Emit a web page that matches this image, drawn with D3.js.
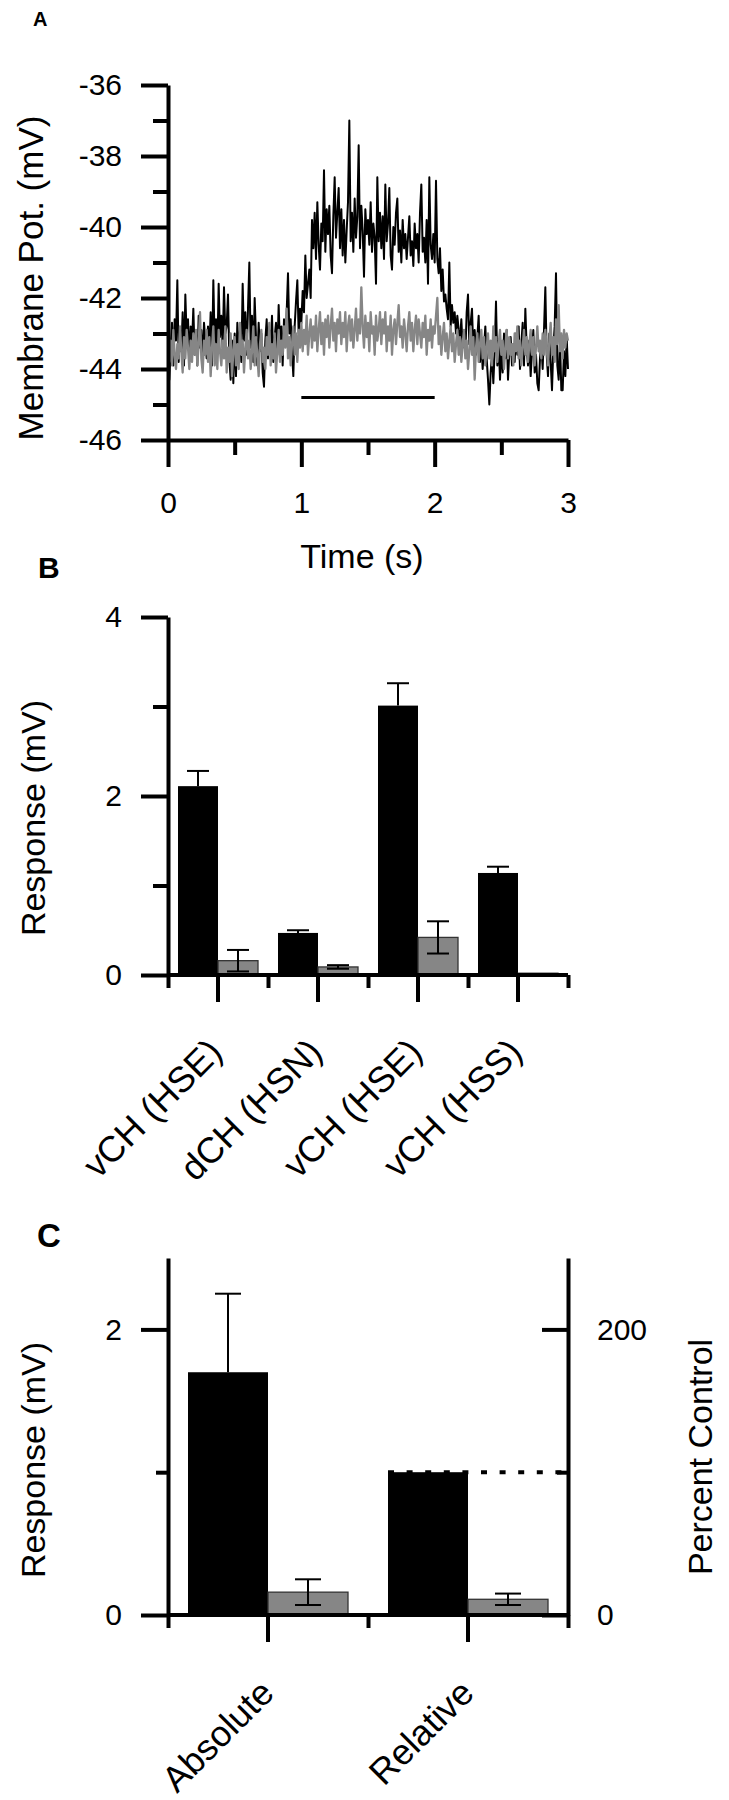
<!DOCTYPE html>
<html><head><meta charset="utf-8">
<script src="https://cdn.jsdelivr.net/npm/d3@7"></script>
<style>
body{margin:0;background:#fff}
svg text{font-family:"Liberation Sans",Arial,Helvetica,sans-serif;fill:#000}
</style>
</head><body>
<svg id="fig" width="729" height="1800"></svg>
<script>
// ---------------- Panel A data ----------------
const traceDt = 0.01; // s between samples, first sample at t = 0
const controlTrace = [
 -43.6,-44.3,-43.4,-42.7,-43.9,-42.6,-43.2,-41.5,-43.8,-42.9,
 -43.5,-42.4,-43.9,-41.9,-43.1,-42.6,-43.7,-42.8,-43.3,-42.3,
 -43.6,-43.0,-43.9,-42.5,-43.4,-42.9,-43.8,-42.7,-43.2,-43.7,
 -42.8,-43.5,-42.4,-43.9,-41.5,-43.3,-42.6,-43.6,-41.6,-43.1,
 -42.5,-43.4,-41.7,-43.0,-42.8,-41.9,-43.7,-44.3,-43.2,-44.4,
 -43.0,-44.2,-42.7,-43.5,-42.9,-43.8,-41.6,-43.2,-42.4,-43.6,
 -42.3,-41.0,-43.4,-42.5,-43.8,-42.0,-43.1,-43.9,-42.7,-43.5,
 -43.0,-44.1,-44.5,-43.2,-42.6,-43.7,-42.9,-43.4,-42.5,-43.8,
 -43.1,-42.7,-43.6,-42.2,-43.4,-42.8,-43.9,-42.6,-43.3,-42.4,
 -41.3,-43.0,-42.6,-43.5,-44.2,-42.8,-42.1,-41.5,-43.0,-42.3,
 -42.7,-41.8,-42.4,-40.8,-42.0,-41.6,-41.2,-42.0,-39.8,-40.6,
 -39.6,-40.9,-39.3,-40.5,-41.2,-39.9,-40.4,-38.4,-40.7,-39.5,
 -40.2,-39.4,-40.8,-41.3,-39.7,-38.6,-40.3,-39.6,-38.9,-40.6,
 -39.5,-40.8,-39.8,-41.0,-40.1,-39.3,-37.0,-40.4,-39.6,-40.7,
 -39.2,-40.3,-39.7,-37.7,-40.6,-39.4,-40.1,-41.4,-39.5,-40.2,
 -39.8,-40.5,-39.3,-40.7,-39.9,-40.3,-41.6,-38.6,-40.4,-39.6,
 -40.6,-39.7,-40.9,-38.8,-40.4,-39.9,-38.9,-40.8,-41.2,-40.0,
 -40.5,-39.6,-39.2,-40.7,-40.1,-41.0,-39.8,-40.6,-40.2,-40.9,
 -40.3,-39.7,-40.8,-40.4,-41.1,-39.9,-40.6,-40.2,-41.0,-39.6,
 -38.8,-40.7,-40.3,-41.0,-39.8,-41.6,-38.6,-40.5,-40.9,-40.2,
 -41.0,-38.7,-40.9,-41.3,-40.6,-41.8,-41.2,-42.1,-41.9,-42.3,
 -42.6,-41.0,-42.8,-42.2,-42.7,-42.4,-43.0,-42.5,-42.9,-43.2,
 -42.6,-43.4,-42.9,-43.6,-42.4,-41.9,-43.3,-42.7,-42.3,-43.5,
 -42.9,-43.6,-43.1,-42.5,-43.8,-43.2,-44.0,-43.4,-42.8,-43.7,
 -44.3,-45.0,-44.1,-43.6,-44.4,-43.5,-42.1,-43.9,-43.2,-44.3,
 -43.4,-44.1,-43.0,-43.7,-42.9,-44.3,-43.5,-43.1,-43.9,-43.3,
 -43.8,-43.0,-43.6,-42.8,-44.0,-43.3,-42.7,-43.9,-42.3,-43.4,
 -43.9,-43.2,-44.2,-43.5,-42.9,-44.1,-43.6,-44.4,-44.6,-43.7,
 -43.3,-44.0,-42.9,-41.7,-43.6,-44.2,-43.0,-43.8,-44.6,-43.4,
 -42.8,-41.3,-43.9,-44.3,-43.2,-44.6,-44.6,-43.5,-44.2,-43.1,
 -44.0
];
const treatedTrace = [
 -43.1,-43.8,-43.2,-43.9,-42.9,-43.6,-44.0,-43.3,-43.7,-42.8,
 -43.5,-44.1,-43.1,-43.7,-42.9,-43.4,-44.0,-43.2,-43.8,-43.0,
 -43.6,-42.9,-43.9,-43.3,-42.4,-43.7,-44.1,-43.2,-43.6,-42.9,
 -43.8,-43.1,-44.2,-43.4,-42.8,-43.9,-43.3,-44.0,-42.9,-43.5,
 -43.9,-43.2,-43.7,-42.8,-44.1,-43.4,-43.8,-43.0,-44.2,-43.5,
 -43.1,-43.9,-43.3,-44.0,-42.7,-43.6,-43.2,-44.1,-43.4,-42.9,
 -43.7,-43.2,-44.0,-43.5,-42.8,-43.9,-43.1,-43.6,-44.2,-43.3,
 -42.9,-43.8,-43.4,-44.0,-43.1,-43.6,-42.7,-43.9,-43.3,-43.7,
 -43.0,-44.1,-43.5,-42.9,-43.8,-43.2,-43.6,-42.8,-43.4,-42.3,
 -43.7,-43.1,-43.9,-43.3,-42.8,-43.6,-43.0,-43.8,-42.9,-43.4,
 -42.7,-43.5,-42.9,-43.3,-42.5,-43.6,-43.0,-42.6,-43.4,-42.8,
 -43.2,-42.5,-43.5,-42.9,-42.4,-43.3,-42.7,-43.6,-42.6,-43.1,
 -42.5,-43.4,-42.8,-42.3,-43.2,-42.7,-43.5,-42.6,-43.0,-42.4,
 -43.3,-42.7,-43.1,-42.4,-43.5,-42.8,-42.5,-43.2,-42.6,-43.4,
 -42.9,-42.3,-43.2,-42.6,-43.0,-41.7,-42.8,-43.4,-42.5,-43.1,
 -42.7,-43.5,-42.4,-43.0,-42.8,-43.6,-42.5,-43.2,-42.9,-42.4,
 -43.3,-42.6,-43.0,-42.4,-43.5,-42.8,-43.2,-42.5,-43.6,-42.9,
 -42.6,-43.3,-42.7,-42.2,-43.1,-42.8,-43.4,-42.6,-43.0,-43.5,
 -42.8,-42.4,-43.2,-42.7,-43.5,-42.9,-42.5,-43.3,-42.6,-43.0,
 -43.4,-42.7,-43.1,-42.5,-43.6,-42.9,-43.2,-42.6,-43.4,-42.8,
 -43.0,-42.5,-42.0,-43.3,-42.8,-43.6,-43.1,-42.7,-43.5,-43.0,
 -43.7,-43.2,-42.8,-43.5,-43.0,-43.8,-43.3,-42.9,-43.6,-43.1,
 -43.8,-43.3,-42.9,-43.7,-43.2,-44.0,-43.5,-42.8,-43.6,-43.1,
 -44.3,-43.4,-43.0,-43.8,-43.3,-42.9,-43.7,-43.1,-43.9,-43.4,
 -43.0,-43.7,-43.2,-43.9,-42.8,-43.5,-43.1,-43.8,-43.3,-42.9,
 -43.6,-43.2,-44.0,-43.4,-42.9,-43.7,-43.1,-43.6,-43.3,-43.9,
 -43.0,-43.5,-42.8,-43.7,-43.2,-43.9,-43.4,-42.9,-43.6,-43.1,
 -43.8,-43.3,-42.9,-43.6,-43.1,-43.9,-43.4,-42.8,-43.5,-43.2,
 -43.7,-43.0,-43.6,-42.9,-43.4,-43.9,-43.2,-42.7,-43.6,-43.1,
 -43.8,-42.6,-43.3,-42.2,-43.5,-43.0,-43.7,-42.9,-43.4,-43.0,
 -43.2
];
const stimulusTimes = [1, 2];
const stimulusLevel = -44.8;
const aXDomain = [0, 3];
const aYDomain = [-46, -36];
const aXMajor = [0, 1, 2, 3];
const aXMinor = [0.5, 1.5, 2.5];
const aYMajor = [-46, -44, -42, -40, -38, -36];
const aYMinor = [-45, -43, -41, -39, -37];

// ---------------- Panel B data ----------------
const bCategories = ["vCH (HSE)", "dCH (HSN)", "vCH (HSE)", "vCH (HSS)"];
const bControl    = [2.11, 0.47, 3.01, 1.14];
const bControlErr = [0.17, 0.03, 0.25, 0.07];
const bTreated    = [0.16, 0.09, 0.42, 0.02];
const bTreatedErr = [0.12, 0.02, 0.18, 0.0];
const bYDomain = [0, 4];
const bYMajor = [0, 2, 4];
const bYMinor = [1, 3];

// ---------------- Panel C data ----------------
const cCategories = ["Absolute", "Relative"];
const cControl    = [1.70, 100];   // mV (left axis), % (right axis)
const cControlErr = [0.55, 0];
const cTreated    = [0.16, 11];
const cTreatedErr = [0.09, 4];
const cReferenceLevel = 100;        // % control, dotted line
const cLeftDomain = [0, 2.5];
const cRightDomain = [0, 250];
const cLeftMajor = [0, 2];
const cLeftMinor = [1];
const cRightMajor = [0, 200];
const cRightMinor = [100];

// ---------------- drawing ----------------
const svg = d3.select("#fig");
const BLACK = "#000", GRAY = "#868686";
const AXW = 4;
const TICKFS = 30, CATFS = 36, TITLEFS = 34;

function styleAxis(g, fs) {
  g.attr("font-family", null).attr("font-size", fs);
  g.select(".domain").attr("stroke", "#000").attr("stroke-width", AXW);
  g.selectAll(".tick line").attr("stroke", "#000").attr("stroke-width", AXW);
  g.selectAll(".tick text").attr("fill", "#000");
  return g;
}
function hideDomain(g) { g.select(".domain").remove(); return g; }

function panelLabel(txt, x, y, fs) {
  svg.append("text").attr("x", x).attr("y", y).attr("font-size", fs)
    .attr("font-weight", "bold").text(txt);
}
function yTitle(txt, x, y, fs) {
  svg.append("text").attr("transform", `translate(${x},${y}) rotate(-90)`)
    .attr("text-anchor", "middle").attr("font-size", fs).text(txt);
}

// ===== Panel A =====
panelLabel("A", 33, 26, 20);
const ax = d3.scaleLinear().domain(aXDomain).range([168, 568]);
const ay = d3.scaleLinear().domain(aYDomain).range([440, 85]);

const line = d3.line().x((d, i) => ax(i * traceDt)).y(d => ay(d));
svg.append("path").datum(controlTrace).attr("d", line)
  .attr("fill", "none").attr("stroke", BLACK).attr("stroke-width", 2.0).attr("stroke-linejoin", "round");
svg.append("path").datum(treatedTrace).attr("d", line)
  .attr("fill", "none").attr("stroke", GRAY).attr("stroke-width", 2.3).attr("stroke-linejoin", "round");

svg.append("line")
  .attr("x1", ax(stimulusTimes[0])).attr("x2", ax(stimulusTimes[1]))
  .attr("y1", ay(stimulusLevel)).attr("y2", ay(stimulusLevel))
  .attr("stroke", BLACK).attr("stroke-width", 3);

hideDomain(styleAxis(svg.append("g").attr("transform", "translate(168,0)")
  .call(d3.axisLeft(ay).tickValues(aYMinor).tickSize(15).tickFormat("")), TICKFS));
hideDomain(styleAxis(svg.append("g").attr("transform", "translate(0,440)")
  .call(d3.axisBottom(ax).tickValues(aXMinor).tickSize(15).tickFormat("")), TICKFS));
styleAxis(svg.append("g").attr("transform", "translate(168,0)")
  .call(d3.axisLeft(ay).tickValues(aYMajor).tickSize(27).tickSizeOuter(0).tickPadding(19).tickFormat(d => String(d))), TICKFS);
styleAxis(svg.append("g").attr("transform", "translate(0,440)")
  .call(d3.axisBottom(ax).tickValues(aXMajor).tickSize(27).tickSizeOuter(0).tickPadding(25).tickFormat(d => String(d))), TICKFS);

svg.append("text").attr("x", 362).attr("y", 568).attr("text-anchor", "middle")
  .attr("font-size", TITLEFS).text("Time (s)");
yTitle("Membrane Pot. (mV)", 43, 278, 35);

// ===== shared bar drawing =====
function drawBars(xBand, sub, yOf, ctrl, ctrlErr, trt, trtErr, capW) {
  const groups = svg.append("g");
  ctrl.forEach((v, i) => {
    const y = yOf(i);
    const x0 = xBand(i) + sub("control");
    const x1 = xBand(i) + sub("treated");
    const w = sub.bandwidth();
    groups.append("rect").attr("x", x0).attr("y", y(v)).attr("width", w)
      .attr("height", y(0) - y(v)).attr("fill", BLACK);
    if (ctrlErr[i] > 0) {
      const cx = x0 + w / 2;
      groups.append("line").attr("x1", cx).attr("x2", cx)
        .attr("y1", y(v)).attr("y2", y(v + ctrlErr[i])).attr("stroke", BLACK).attr("stroke-width", 2);
      groups.append("line").attr("x1", cx - capW / 2).attr("x2", cx + capW / 2)
        .attr("y1", y(v + ctrlErr[i])).attr("y2", y(v + ctrlErr[i])).attr("stroke", BLACK).attr("stroke-width", 2);
    }
    const t = trt[i];
    groups.append("rect").attr("x", x1).attr("y", y(t)).attr("width", w)
      .attr("height", y(0) - y(t)).attr("fill", GRAY).attr("stroke", "#333").attr("stroke-width", 1.3);
    if (trtErr[i] > 0) {
      const cx = x1 + w / 2;
      const lo = y(t - trtErr[i]), hi = y(t + trtErr[i]);
      groups.append("line").attr("x1", cx).attr("x2", cx).attr("y1", lo).attr("y2", hi)
        .attr("stroke", BLACK).attr("stroke-width", 2);
      [lo, hi].forEach(yy => groups.append("line").attr("x1", cx - capW / 2).attr("x2", cx + capW / 2)
        .attr("y1", yy).attr("y2", yy).attr("stroke", BLACK).attr("stroke-width", 2));
    }
  });
}
// rotated category labels, anchored at the end of the text
function categoryLabels(xBand, cats, axisY, dx, dy) {
  svg.append("g").selectAll("text").data(cats).join("text")
    .attr("text-anchor", "end").attr("font-size", CATFS)
    .attr("transform", (d, i) => `translate(${xBand(i) + xBand.bandwidth() / 2 + dx},${axisY + dy}) rotate(-45)`)
    .text(d => d);
}

// ===== Panel B =====
panelLabel("B", 38, 578, 30);
const bx = d3.scaleBand().domain(d3.range(bCategories.length)).range([168, 568]);
const bSub = d3.scaleBand().domain(["control", "treated"])
  .range([bx.bandwidth() * 0.1, bx.bandwidth() * 0.9]);
const by = d3.scaleLinear().domain(bYDomain).range([975, 617]);
const bEdge = d3.scaleLinear().domain([0, bCategories.length]).range([168, 568]);

drawBars(bx, bSub, () => by, bControl, bControlErr, bTreated, bTreatedErr, 22);

hideDomain(styleAxis(svg.append("g").attr("transform", "translate(168,0)")
  .call(d3.axisLeft(by).tickValues(bYMinor).tickSize(15).tickFormat("")), TICKFS));
styleAxis(svg.append("g").attr("transform", "translate(168,0)")
  .call(d3.axisLeft(by).tickValues(bYMajor).tickSize(27).tickSizeOuter(0).tickPadding(19).tickFormat(d => String(d))), TICKFS);
hideDomain(styleAxis(svg.append("g").attr("transform", "translate(0,975)")
  .call(d3.axisBottom(bEdge).tickValues(d3.range(bCategories.length + 1)).tickSize(13).tickFormat("")), TICKFS));
const bxAxis = styleAxis(svg.append("g").attr("transform", "translate(0,975)")
  .call(d3.axisBottom(bx).tickSize(27).tickSizeOuter(0).tickFormat("")), TICKFS);
bxAxis.select(".domain").attr("d", "M168,0H568");
categoryLabels(bx, bCategories, 975, 6, 79);

yTitle("Response (mV)", 45, 818, TITLEFS);

// ===== Panel C =====
panelLabel("C", 37, 1247, 33);
const cx = d3.scaleBand().domain(d3.range(cCategories.length)).range([168, 568]);
const cSub = d3.scaleBand().domain(["control", "treated"])
  .range([cx.bandwidth() * 0.1, cx.bandwidth() * 0.9]);
const cyL = d3.scaleLinear().domain(cLeftDomain).range([1615, 1258]);
const cyR = d3.scaleLinear().domain(cRightDomain).range([1615, 1258]);
const cEdge = d3.scaleLinear().domain([0, cCategories.length]).range([168, 568]);
const cScales = [cyL, cyR];

svg.append("line")
  .attr("x1", cx(1) + cSub("control")).attr("x2", 568)
  .attr("y1", cyR(cReferenceLevel)).attr("y2", cyR(cReferenceLevel))
  .attr("stroke", BLACK).attr("stroke-width", 4).attr("stroke-dasharray", "6,12.6");

drawBars(cx, cSub, i => cScales[i], cControl, cControlErr, cTreated, cTreatedErr, 26);

hideDomain(styleAxis(svg.append("g").attr("transform", "translate(168,0)")
  .call(d3.axisLeft(cyL).tickValues(cLeftMinor).tickSize(12).tickFormat("")), TICKFS));
styleAxis(svg.append("g").attr("transform", "translate(168,0)")
  .call(d3.axisLeft(cyL).tickValues(cLeftMajor).tickSize(27).tickSizeOuter(0).tickPadding(19).tickFormat(d => String(d))), TICKFS);
hideDomain(styleAxis(svg.append("g").attr("transform", "translate(568,0)")
  .call(d3.axisRight(cyR).tickValues(cRightMinor).tickSize(-11).tickFormat("")), TICKFS));
styleAxis(svg.append("g").attr("transform", "translate(568,0)")
  .call(d3.axisRight(cyR).tickValues(cRightMajor).tickSizeInner(-26).tickSizeOuter(0).tickPadding(29).tickFormat(d => String(d))), TICKFS);
hideDomain(styleAxis(svg.append("g").attr("transform", "translate(0,1615)")
  .call(d3.axisBottom(cEdge).tickValues(d3.range(cCategories.length + 1)).tickSize(13).tickFormat("")), TICKFS));
const cxAxis = styleAxis(svg.append("g").attr("transform", "translate(0,1615)")
  .call(d3.axisBottom(cx).tickSize(27).tickSizeOuter(0).tickFormat("")), TICKFS);
cxAxis.select(".domain").attr("d", "M168,0H568");
categoryLabels(cx, cCategories, 1615, 8, 80);

yTitle("Response (mV)", 45, 1460, TITLEFS);
svg.append("text").attr("transform", "translate(712,1457) rotate(-90)")
  .attr("text-anchor", "middle").attr("font-size", TITLEFS).text("Percent Control");
</script>
</body></html>
